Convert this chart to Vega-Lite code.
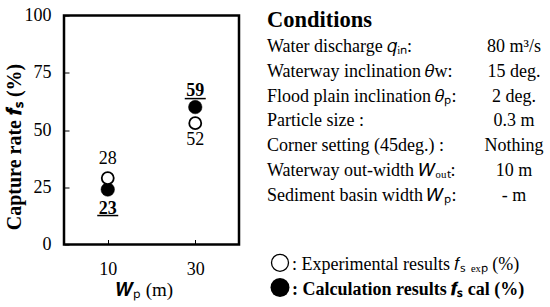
{
  "$schema": "https://vega.github.io/schema/vega-lite/v6.json",
  "padding": {"left": 2, "top": 4.5, "right": 0, "bottom": 0},
  "background": "white",
  "spacing": 26,
  "config": {
    "font": "Liberation Serif",
    "view": {"stroke": null},
    "text": {"font": "Liberation Serif", "color": "black"}
  },
  "datasets": {
    "points": [
      {"Wp": 10, "type": "exp", "fs": 29, "label": "28"},
      {"Wp": 10, "type": "cal", "fs": 24, "label": "23"},
      {"Wp": 30, "type": "cal", "fs": 60, "label": "59"},
      {"Wp": 30, "type": "exp", "fs": 53, "label": "52"}
    ],
    "heading": [{"line": 0, "label": "Conditions"}],
    "conditions": [
      {"line": 1, "label": "Water discharge 𝑞ᵢₙ:", "value": "80  m³/s"},
      {"line": 2, "label": "Waterway  inclination 𝜃w:", "value": "15  deg."},
      {"line": 3, "label": "Flood plain inclination 𝜃ₚ:", "value": "2  deg."},
      {"line": 4, "label": "Particle size :", "value": "0.3  m"},
      {"line": 5, "label": "Corner setting (45deg.) :", "value": "Nothing"},
      {"line": 6, "label": "Waterway out-width 𝑊ₒᵤₜ:", "value": "10  m"},
      {"line": 7, "label": "Sediment basin width 𝑊ₚ:", "value": "-  m"}
    ],
    "legend": [
      {"line": 10, "kind": "exp", "label": ": Experimental results 𝑓ₛ ₑₓₚ (%)"},
      {"line": 11, "kind": "cal", "label": ": Calculation results 𝒇ₛ cal (%)"}
    ]
  },
  "hconcat": [
    {
      "width": 175,
      "height": 229,
      "view": {"stroke": "black", "strokeWidth": 2.5},
      "data": {"name": "points"},
      "encoding": {
        "x": {
          "field": "Wp", "type": "quantitative",
          "scale": {"domain": [0, 40], "nice": false},
          "axis": {
            "values": [10, 30], "grid": false, "domain": false,
            "tickSize": -5, "tickColor": "black", "tickWidth": 1,
            "labelPadding": 20.5, "labelFontSize": 18, "labelColor": "black", "labelFont": "Liberation Serif",
            "title": "𝑾ₚ (m)", "titleFontSize": 19, "titleFontWeight": "normal", "titleColor": "black", "titleFont": "Liberation Serif", "titlePadding": 2.5, "titleX": 80, "titleAlign": "center"
          }
        },
        "y": {
          "field": "fs", "type": "quantitative",
          "scale": {"domain": [0, 100], "nice": false},
          "axis": {
            "values": [0, 25, 50, 75, 100], "grid": false, "domain": false,
            "tickSize": -5, "tickColor": "black", "tickWidth": 1,
            "labelPadding": 18, "labelFontSize": 18, "labelColor": "black", "labelFont": "Liberation Serif",
            "title": "Capture  rate 𝒇ₛ (%)", "titleFontSize": 20, "titleFontWeight": "bold", "titleColor": "black", "titleFont": "Liberation Serif", "titlePadding": 0, "titleY": 131
          }
        }
      },
      "layer": [
        {
          "transform": [{"filter": "datum.type == 'cal'"}],
          "mark": {"type": "point", "shape": "circle", "size": 182, "filled": true, "fill": "black", "stroke": "black", "strokeWidth": 0.5, "opacity": 1}
        },
        {
          "transform": [{"filter": "datum.type == 'exp'"}],
          "mark": {"type": "point", "shape": "circle", "size": 144, "filled": false, "fill": "white", "fillOpacity": 1, "stroke": "black", "strokeWidth": 1.8, "opacity": 1}
        },
        {
          "transform": [
            {"joinaggregate": [{"op": "max", "field": "fs", "as": "top"}], "groupby": ["Wp"]},
            {"filter": "datum.type == 'exp' && datum.fs == datum.top"}
          ],
          "mark": {"type": "text", "dy": -19, "fontSize": 18},
          "encoding": {"text": {"field": "label"}}
        },
        {
          "transform": [
            {"joinaggregate": [{"op": "max", "field": "fs", "as": "top"}], "groupby": ["Wp"]},
            {"filter": "datum.type == 'exp' && datum.fs < datum.top"}
          ],
          "mark": {"type": "text", "dy": 17, "fontSize": 18},
          "encoding": {"text": {"field": "label"}}
        },
        {
          "transform": [
            {"joinaggregate": [{"op": "max", "field": "fs", "as": "top"}], "groupby": ["Wp"]},
            {"filter": "datum.type == 'cal' && datum.fs == datum.top"}
          ],
          "mark": {"type": "text", "dy": -16, "fontSize": 18, "fontWeight": "bold"},
          "encoding": {"text": {"field": "label"}}
        },
        {
          "transform": [
            {"joinaggregate": [{"op": "max", "field": "fs", "as": "top"}], "groupby": ["Wp"]},
            {"filter": "datum.type == 'cal' && datum.fs == datum.top"}
          ],
          "mark": {"type": "tick", "orient": "horizontal", "size": 21, "thickness": 1.5, "yOffset": -8.5, "color": "black", "opacity": 1}
        },
        {
          "transform": [
            {"joinaggregate": [{"op": "max", "field": "fs", "as": "top"}], "groupby": ["Wp"]},
            {"filter": "datum.type == 'cal' && datum.fs < datum.top"}
          ],
          "mark": {"type": "text", "dy": 19.5, "fontSize": 18, "fontWeight": "bold"},
          "encoding": {"text": {"field": "label"}}
        },
        {
          "transform": [
            {"joinaggregate": [{"op": "max", "field": "fs", "as": "top"}], "groupby": ["Wp"]},
            {"filter": "datum.type == 'cal' && datum.fs < datum.top"}
          ],
          "mark": {"type": "tick", "orient": "horizontal", "size": 21, "thickness": 1.5, "yOffset": 26, "color": "black", "opacity": 1}
        }
      ]
    },
    {
      "width": 280,
      "height": 229,
      "encoding": {
        "y": {
          "field": "line", "type": "quantitative",
          "scale": {"domain": [-0.485, 8.775], "reverse": true, "zero": false, "nice": false},
          "axis": null
        }
      },
      "layer": [
        {
          "data": {"name": "heading"},
          "mark": {"type": "text", "align": "left", "baseline": "alphabetic", "fontSize": 22.5, "fontWeight": "bold"},
          "encoding": {
            "x": {"datum": 0, "type": "quantitative", "scale": {"domain": [0, 280], "nice": false, "zero": true}, "axis": null},
            "text": {"field": "label"}
          }
        },
        {
          "data": {"name": "conditions"},
          "mark": {"type": "text", "align": "left", "baseline": "alphabetic", "fontSize": 18},
          "encoding": {
            "x": {"datum": 0, "type": "quantitative"},
            "text": {"field": "label"}
          }
        },
        {
          "data": {"name": "conditions"},
          "mark": {"type": "text", "align": "center", "baseline": "alphabetic", "fontSize": 18},
          "encoding": {
            "x": {"datum": 247, "type": "quantitative"},
            "text": {"field": "value"}
          }
        },
        {
          "data": {"name": "legend"},
          "transform": [{"filter": "datum.kind == 'exp'"}],
          "mark": {"type": "point", "shape": "circle", "size": 289, "filled": false, "stroke": "black", "strokeWidth": 1.3, "yOffset": -12, "opacity": 1},
          "encoding": {"x": {"datum": 13, "type": "quantitative"}}
        },
        {
          "data": {"name": "legend"},
          "transform": [{"filter": "datum.kind == 'cal'"}],
          "mark": {"type": "point", "shape": "circle", "size": 361, "filled": true, "fill": "black", "yOffset": -12, "opacity": 1},
          "encoding": {"x": {"datum": 13, "type": "quantitative"}}
        },
        {
          "data": {"name": "legend"},
          "transform": [{"filter": "datum.kind == 'exp'"}],
          "mark": {"type": "text", "align": "left", "baseline": "alphabetic", "fontSize": 18, "yOffset": -5},
          "encoding": {"x": {"datum": 25, "type": "quantitative"}, "text": {"field": "label"}}
        },
        {
          "data": {"name": "legend"},
          "transform": [{"filter": "datum.kind == 'cal'"}],
          "mark": {"type": "text", "align": "left", "baseline": "alphabetic", "fontSize": 18, "fontWeight": "bold", "yOffset": -5},
          "encoding": {"x": {"datum": 25, "type": "quantitative"}, "text": {"field": "label"}}
        }
      ]
    }
  ]
}
